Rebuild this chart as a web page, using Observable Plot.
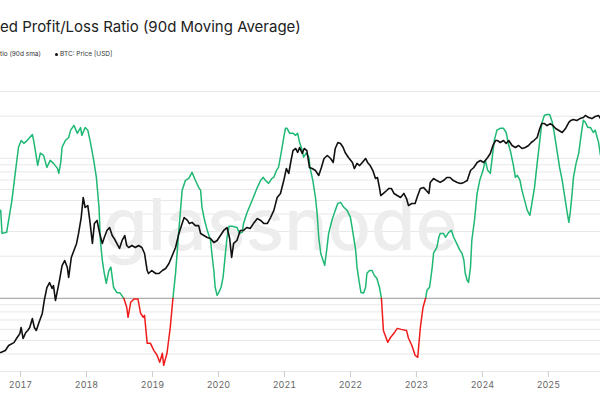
<!DOCTYPE html>
<html>
<head>
<meta charset="utf-8">
<script src="https://cdn.jsdelivr.net/npm/d3@7"></script>
<script src="https://cdn.jsdelivr.net/npm/@observablehq/plot@0.6"></script>
<style>
  body { margin: 0; width: 600px; height: 400px; overflow: hidden; background: #fff; font-family: Inter, "Noto Sans", sans-serif; }
  #header { position: relative; height: 70px; width: 600px; }
  #title { position: absolute; left: 0; top: 17px; font-size: 15px; line-height: 20px; color: #222; white-space: nowrap; }
  .leg { position: absolute; top: 50.5px; font-size: 6.5px; line-height: 7px; color: #333; white-space: nowrap; }
  .dot { position: absolute; top: 52.5px; width: 3.5px; height: 3.5px; border-radius: 50%; background: #111; }
  #chart { position: relative; width: 600px; height: 330px; }
  #chart svg { position: absolute; left: 0; top: 0; }
</style>
</head>
<body>
<div id="header">
  <div id="title">ed Profit/Loss Ratio (90d Moving Average)</div>
  <div class="leg" style="left:0px">tio (90d sma)</div>
  <div class="dot" style="left:54.5px"></div>
  <div class="leg" style="left:60px">BTC: Price [USD]</div>
</div>
<div id="chart"></div>
<script>
// Realized Profit/Loss Ratio (90d SMA): [decimal year, ratio]
const ratioSeries = [[2016.70,4.25],[2016.72,2.91],[2016.79,2.96],[2016.82,3.61],[2016.87,5.01],[2016.92,7.81],[2016.97,12.0],[2017.01,13.4],[2017.05,12.8],[2017.10,13.4],[2017.18,14.8],[2017.20,13.4],[2017.23,11.0],[2017.26,8.91],[2017.30,10.9],[2017.35,10.5],[2017.40,8.62],[2017.45,9.68],[2017.50,9.21],[2017.56,8.48],[2017.58,7.81],[2017.61,9.36],[2017.63,12.0],[2017.68,13.4],[2017.73,14.1],[2017.76,15.9],[2017.81,17.2],[2017.86,15.1],[2017.91,16.6],[2017.93,14.6],[2017.98,16.6],[2018.02,15.9],[2018.06,13.0],[2018.11,9.68],[2018.15,7.32],[2018.19,4.47],[2018.21,2.60],[2018.24,1.87],[2018.27,1.51],[2018.30,1.28],[2018.34,1.58],[2018.37,1.67],[2018.41,1.20],[2018.46,1.10],[2018.51,1.09],[2018.566,1.0],[2018.61,0.862],[2018.63,0.732],[2018.67,0.936],[2018.72,0.99],[2018.78,0.99],[2018.82,0.782],[2018.86,0.732],[2018.88,0.756],[2018.92,0.477],[2018.97,0.477],[2019.02,0.425],[2019.07,0.392],[2019.11,0.349],[2019.15,0.405],[2019.17,0.332],[2019.22,0.405],[2019.27,0.621],[2019.31,1.0],[2019.35,1.51],[2019.40,3.06],[2019.45,5.91],[2019.50,6.97],[2019.55,7.20],[2019.60,7.94],[2019.65,6.97],[2019.70,6.21],[2019.73,5.91],[2019.75,4.47],[2019.79,3.61],[2019.83,3.06],[2019.88,2.60],[2019.90,2.10],[2019.93,1.58],[2019.95,1.20],[2019.98,1.05],[2020.00,1.09],[2020.04,1.20],[2020.07,1.41],[2020.10,1.96],[2020.13,2.73],[2020.16,3.27],[2020.21,3.27],[2020.28,3.21],[2020.32,2.91],[2020.36,2.96],[2020.38,3.43],[2020.43,4.05],[2020.48,4.62],[2020.53,5.27],[2020.59,6.21],[2020.64,6.97],[2020.68,7.32],[2020.71,6.97],[2020.76,6.63],[2020.81,7.20],[2020.84,7.32],[2020.88,8.21],[2020.91,8.62],[2020.95,10.9],[2020.99,14.1],[2021.015,16.4],[2021.04,16.4],[2021.08,15.1],[2021.13,15.1],[2021.17,14.6],[2021.20,15.1],[2021.23,13.0],[2021.27,11.4],[2021.29,10.2],[2021.33,10.9],[2021.37,10.2],[2021.39,8.48],[2021.43,6.97],[2021.47,5.27],[2021.495,4.05],[2021.52,2.73],[2021.55,2.10],[2021.57,1.96],[2021.61,1.72],[2021.64,2.20],[2021.67,2.91],[2021.72,3.61],[2021.77,4.25],[2021.81,4.77],[2021.85,4.85],[2021.90,4.47],[2021.95,4.25],[2022.00,3.79],[2022.04,2.91],[2022.08,2.20],[2022.10,1.67],[2022.13,1.34],[2022.16,1.10],[2022.20,1.09],[2022.23,1.20],[2022.25,1.51],[2022.29,1.58],[2022.33,1.58],[2022.36,1.46],[2022.40,1.39],[2022.44,1.20],[2022.47,1.0],[2022.50,0.59],[2022.565,0.485],[2022.61,0.527],[2022.66,0.562],[2022.71,0.61],[2022.77,0.60],[2022.85,0.59],[2022.88,0.518],[2022.93,0.462],[2022.98,0.392],[2023.02,0.379],[2023.06,0.62],[2023.10,0.86],[2023.14,1.0],[2023.16,1.14],[2023.20,1.20],[2023.24,1.67],[2023.26,2.10],[2023.31,2.31],[2023.34,2.73],[2023.36,2.91],[2023.41,2.91],[2023.44,2.73],[2023.49,2.96],[2023.53,3.06],[2023.565,2.73],[2023.61,2.47],[2023.66,2.20],[2023.69,2.10],[2023.72,1.87],[2023.74,1.51],[2023.77,1.34],[2023.79,1.30],[2023.82,1.67],[2023.84,2.60],[2023.88,3.61],[2023.92,5.62],[2023.96,6.97],[2024.01,8.21],[2024.045,9.68],[2024.08,8.21],[2024.12,7.81],[2024.15,10.2],[2024.18,13.4],[2024.22,15.9],[2024.27,16.4],[2024.32,16.4],[2024.36,15.3],[2024.40,12.4],[2024.43,11.0],[2024.47,8.91],[2024.50,7.32],[2024.53,7.56],[2024.57,6.97],[2024.60,5.91],[2024.64,5.01],[2024.68,4.25],[2024.72,3.92],[2024.75,4.77],[2024.79,6.21],[2024.83,9.21],[2024.87,13.4],[2024.90,17.8],[2024.94,20.3],[2024.98,20.6],[2025.02,20.6],[2025.06,18.1],[2025.09,15.1],[2025.13,11.4],[2025.17,8.62],[2025.21,6.97],[2025.24,5.62],[2025.28,4.25],[2025.31,3.49],[2025.33,4.05],[2025.36,5.62],[2025.38,7.32],[2025.42,9.21],[2025.46,10.9],[2025.50,15.1],[2025.53,18.7],[2025.56,18.1],[2025.60,16.6],[2025.64,16.6],[2025.68,15.3],[2025.71,15.9],[2025.74,14.1],[2025.76,13.0],[2025.79,10.5]];

// BTC: Price [USD]: [decimal year, price]
const priceSeries = [[2016.70,550],[2016.77,575],[2016.82,645],[2016.90,690],[2016.95,776],[2016.99,850],[2017.01,977],[2017.04,758],[2017.08,871],[2017.11,913],[2017.14,977],[2017.18,1200],[2017.21,977],[2017.24,913],[2017.28,1097],[2017.33,1350],[2017.36,1820],[2017.40,2450],[2017.44,2750],[2017.48,2400],[2017.50,2570],[2017.53,1820],[2017.56,2290],[2017.59,2880],[2017.63,4070],[2017.67,4570],[2017.71,3890],[2017.73,3090],[2017.77,4900],[2017.81,5750],[2017.85,6770],[2017.88,8520],[2017.92,12300],[2017.95,19500],[2017.98,15500],[2018.02,16200],[2018.05,11500],[2018.09,6770],[2018.12,10700],[2018.16,11500],[2018.20,8520],[2018.24,6770],[2018.27,7760],[2018.31,9130],[2018.35,9770],[2018.39,8130],[2018.42,7590],[2018.46,6770],[2018.50,6030],[2018.54,7250],[2018.58,8130],[2018.61,6460],[2018.64,6170],[2018.69,6460],[2018.74,6170],[2018.79,6460],[2018.84,6170],[2018.88,5370],[2018.92,3630],[2018.94,3390],[2018.99,3630],[2019.05,3390],[2019.10,3390],[2019.15,3630],[2019.20,3800],[2019.25,4270],[2019.30,5130],[2019.35,6170],[2019.40,8520],[2019.45,10700],[2019.48,12300],[2019.53,11500],[2019.56,10700],[2019.60,11000],[2019.65,10200],[2019.70,10200],[2019.73,8520],[2019.78,8130],[2019.83,7760],[2019.88,7590],[2019.93,6920],[2019.98,7250],[2020.03,8130],[2020.08,9130],[2020.13,9770],[2020.17,7590],[2020.20,4900],[2020.23,6770],[2020.28,7250],[2020.33,9130],[2020.38,9130],[2020.43,9770],[2020.48,9550],[2020.53,10700],[2020.59,12000],[2020.64,11500],[2020.69,10700],[2020.74,10700],[2020.79,12300],[2020.84,14500],[2020.89,19500],[2020.94,21400],[2020.99,28800],[2021.03,38000],[2021.065,33900],[2021.10,45700],[2021.13,57500],[2021.17,60300],[2021.20,55000],[2021.23,61700],[2021.27,53700],[2021.30,60300],[2021.34,57500],[2021.38,38900],[2021.42,38000],[2021.47,36300],[2021.52,32400],[2021.56,38900],[2021.60,47900],[2021.65,51300],[2021.70,47900],[2021.74,43700],[2021.77,60300],[2021.81,69200],[2021.85,67600],[2021.89,61700],[2021.92,55000],[2021.97,49000],[2022.03,43700],[2022.06,38000],[2022.10,42700],[2022.14,40700],[2022.18,43700],[2022.23,47900],[2022.26,43700],[2022.30,40700],[2022.34,36300],[2022.38,30200],[2022.41,30900],[2022.44,24500],[2022.46,20400],[2022.50,21400],[2022.55,22900],[2022.58,24000],[2022.62,24000],[2022.66,21400],[2022.71,20400],[2022.76,19500],[2022.81,21400],[2022.85,19050],[2022.88,16200],[2022.93,17000],[2022.98,17000],[2023.02,20400],[2023.06,24000],[2023.11,24500],[2023.15,22900],[2023.19,21400],[2023.21,27600],[2023.26,30200],[2023.31,28800],[2023.36,27600],[2023.41,28800],[2023.46,30900],[2023.51,30900],[2023.56,28800],[2023.62,27600],[2023.67,26900],[2023.72,27600],[2023.77,28800],[2023.82,36300],[2023.87,38900],[2023.92,43700],[2023.97,45700],[2024.02,43700],[2024.08,49000],[2024.12,53700],[2024.16,64600],[2024.20,72400],[2024.23,72400],[2024.27,69200],[2024.32,72400],[2024.36,67600],[2024.40,72400],[2024.45,64600],[2024.50,61700],[2024.55,64600],[2024.60,60300],[2024.65,61700],[2024.70,64600],[2024.74,69200],[2024.78,72400],[2024.83,77600],[2024.87,95500],[2024.90,107000],[2024.94,107000],[2024.98,102000],[2025.03,107000],[2025.07,102000],[2025.11,95500],[2025.16,91200],[2025.21,87100],[2025.26,95500],[2025.31,110000],[2025.34,115000],[2025.38,117500],[2025.43,115000],[2025.48,120000],[2025.53,123000],[2025.56,129000],[2025.61,123000],[2025.66,120000],[2025.71,126000],[2025.76,129000],[2025.79,120000]];

const yearTicks = [2017, 2018, 2019, 2020, 2021, 2022, 2023, 2024, 2025];
const ratioGridTicks = [0.3, 0.4, 0.5, 0.6, 0.7, 0.8, 0.9, 1, 2, 3, 4, 5, 6, 7, 8, 9, 10, 20, 30];

const ratio = ratioSeries.map(([t, v]) => ({t, v}));
const price = priceSeries.map(([t, v]) => ({t, v}));

const common = {
  width: 600, height: 330,
  marginTop: 8, marginBottom: 29, marginLeft: 0, marginRight: 0,
  style: {background: "transparent", fontFamily: "Inter, sans-serif", fontSize: "9px", color: "#666"}
};
const xDomain = [2016.697, 2025.79];

const p1 = Plot.plot({
  ...common,
  x: {type: "linear", domain: xDomain, label: null},
  y: {type: "log", domain: [0.3, 37.2], axis: null},
  marks: [
    Plot.gridY(ratioGridTicks, {stroke: "#e8e8e8", strokeOpacity: 1}),
    Plot.text(["glassnode"], {text: d => d, frameAnchor: "middle", dx: -20, dy: 2, fontSize: 72, fill: "#ededed", fontFamily: "Inter, sans-serif", fontWeight: 500}),
    Plot.ruleY([1], {stroke: "#a0a0a0", strokeWidth: 1}),
    Plot.axisX(yearTicks, {tickFormat: d => String(d), tickSize: 6, tickPadding: 4, stroke: "#ccc", fill: "#666", label: null}),
    Plot.line(ratio, {x: "t", y: d => d.v >= 1 ? d.v : NaN, stroke: "#1fb874", strokeWidth: 1.5}),
    Plot.line(ratio, {x: "t", y: d => d.v <= 1 ? d.v : NaN, stroke: "#f01c1c", strokeWidth: 1.5})
  ]
});

const p2 = Plot.plot({
  ...common,
  x: {type: "linear", domain: xDomain, axis: null},
  y: {type: "log", domain: [355, 302000], axis: null},
  marks: [
    Plot.line(price, {x: "t", y: "v", stroke: "#111", strokeWidth: 1.6})
  ]
});

const chart = document.getElementById("chart");
chart.appendChild(p1);
chart.appendChild(p2);
</script>
</body>
</html>
